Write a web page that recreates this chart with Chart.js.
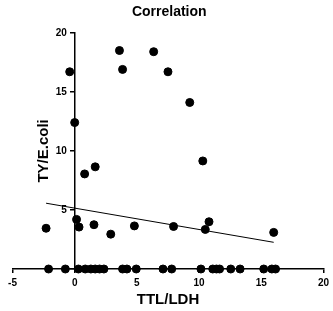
<!DOCTYPE html>
<html>
<head>
<meta charset="utf-8">
<script src="https://cdn.jsdelivr.net/npm/chart.js@4/dist/chart.umd.min.js"></script>
<style>
html,body{margin:0;padding:0;background:#fff;}
canvas{display:block;}
</style>
</head>
<body>
<canvas id="c" width="333" height="311"></canvas>
<script>
const chartTitle = 'Correlation';
const xTitle = 'TTL/LDH';
const yTitle = 'TY/E.coli';

// Non-zero observations
const xValues = [-0.4, 3.6, 3.85, 6.35, 7.5, 9.25, 0.0, 0.8, 1.65, 10.3, -2.3, 0.15, 0.35, 1.55, 2.9, 4.8, 7.95, 10.5, 10.8, 16.0];
const yValues = [16.7, 18.5, 16.9, 18.4, 16.7, 14.1, 12.4, 8.05, 8.65, 9.15, 3.45, 4.2, 3.55, 3.75, 2.95, 3.65, 3.6, 3.35, 4.0, 3.1];
// Observations with zero TY/E.coli
const xZero = [-2.1, -0.75, 0.3, 0.85, 1.3, 1.65, 2.0, 2.35, 3.85, 4.2, 4.95, 7.1, 7.8, 10.15, 11.1, 11.4, 11.65, 12.55, 13.3, 15.2, 15.85, 16.15];
const yZero = [0, 0, 0, 0, 0, 0, 0, 0, 0, 0, 0, 0, 0, 0, 0, 0, 0, 0, 0, 0, 0, 0];
// Regression line end points
const fitX = [-2.3, 16.0];
const fitY = [5.57, 2.26];

const xTicks = [-5, 0, 5, 10, 15, 20];
const yTicks = [0, 5, 10, 15, 20];

const FONT = '"Liberation Sans", Arial, Helvetica, sans-serif';

const pts = xValues.map((x, i) => ({x: x, y: yValues[i]}));
const zeroPts = xZero.map((x, i) => ({x: x, y: yZero[i]}));
const fitPts = fitX.map((x, i) => ({x: x, y: fitY[i]}));

const yTitlePlugin = {
  id: 'yTitlePlugin',
  afterDraw(chart) {
    const ctx = chart.ctx;
    const a = chart.chartArea;
    const x0 = chart.scales.x.getPixelForValue(0);
    ctx.save();
    ctx.font = 'bold 15px ' + FONT;
    ctx.fillStyle = '#000';
    ctx.textAlign = 'center';
    ctx.textBaseline = 'middle';
    ctx.translate(x0 - 31, (a.top + a.bottom) / 2);
    ctx.rotate(-Math.PI / 2);
    ctx.fillText(yTitle, 0, 0);
    ctx.restore();
  }
};

new Chart(document.getElementById('c'), {
  type: 'scatter',
  data: {
    datasets: [
      {
        data: pts,
        backgroundColor: '#000',
        borderColor: '#000',
        pointRadius: 4,
        pointHoverRadius: 4,
        clip: false
      },
      {
        data: zeroPts,
        backgroundColor: '#000',
        borderColor: '#000',
        pointRadius: 4,
        pointHoverRadius: 4,
        clip: false
      },
      {
        type: 'line',
        data: fitPts,
        borderColor: '#000',
        borderWidth: 1,
        pointRadius: 0,
        fill: false,
        clip: false
      }
    ]
  },
  options: {
    responsive: false,
    animation: false,
    events: [],
    layout: {padding: {left: 12.5, right: 7, top: 0, bottom: 0}},
    plugins: {
      legend: {display: false},
      tooltip: {enabled: false},
      title: {
        display: true,
        text: chartTitle,
        color: '#000',
        font: {family: FONT, size: 14, weight: 'bold'},
        padding: {top: 4, bottom: 12}
      }
    },
    scales: {
      x: {
        type: 'linear',
        position: 'bottom',
        min: -5,
        max: 20,
        afterBuildTicks: s => { s.ticks = xTicks.map(v => ({value: v})); },
        grid: {display: true, drawOnChartArea: false, drawTicks: true, tickLength: 4, color: '#000', lineWidth: 1.5},
        border: {display: true, color: '#000', width: 1.5},
        ticks: {color: '#000', font: {family: FONT, size: 10, weight: 'bold'}, padding: 4, maxRotation: 0},
        title: {display: true, text: xTitle, color: '#000', font: {family: FONT, size: 15, weight: 'bold'}, padding: {top: -2, bottom: 2}}
      },
      y: {
        type: 'linear',
        position: {x: 0},
        min: 0,
        max: 20,
        afterBuildTicks: s => { s.ticks = yTicks.map(v => ({value: v})); },
        grid: {display: true, drawOnChartArea: false, drawTicks: true, tickLength: 4, color: '#000', lineWidth: 1.5},
        border: {display: true, color: '#000', width: 1.5},
        ticks: {color: '#000', font: {family: FONT, size: 10, weight: 'bold'}, padding: 2, callback: v => v === 0 ? '' : String(v) + '\u2002 '},
        title: {display: false}
      }
    }
  },
  plugins: [yTitlePlugin]
});
</script>
</body>
</html>
